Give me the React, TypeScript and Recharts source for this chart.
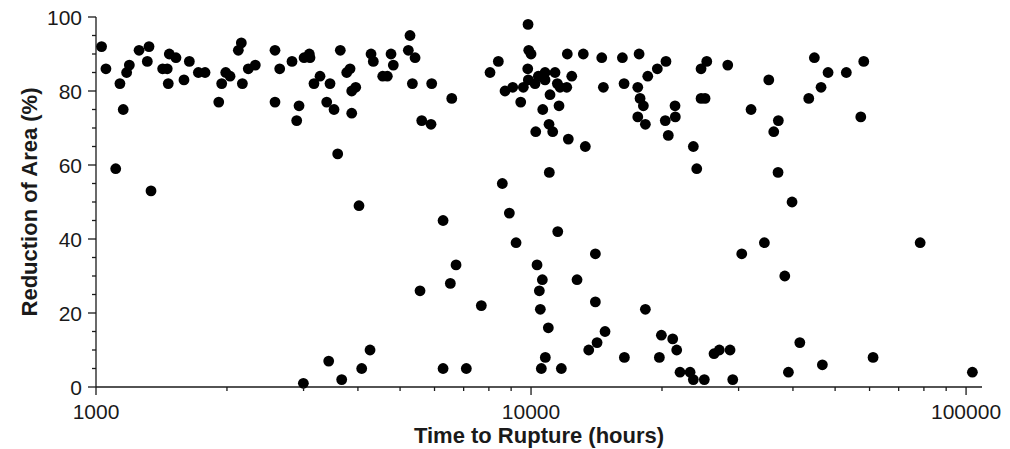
import React from "react";
import { ScatterChart, Scatter, XAxis, YAxis } from "recharts";

// time to rupture (hours)
const ruptureHours = [
  1030, 1054, 1110, 1135, 1155, 1176, 1193, 1256, 1324, 1312, 1338, 1423, 1458, 1466, 1474, 1527,
  1593, 1639, 1719, 1781, 1915, 1945, 1987, 2033, 2124, 2158, 2170, 2239, 2324, 2579, 2579, 2644,
  2822, 2893, 2929, 3008, 3093, 3104, 3170, 3273, 3451, 3391, 3525, 3594, 3644, 3770, 3837, 3871,
  3954, 3871, 4288, 4340, 4561, 4674, 4766, 4824, 5270, 5223, 5413, 5337, 5911, 5607, 5890, 6573,
  2997, 3427, 3671, 4023, 4081, 4265, 5557, 6278, 6278, 6524, 6724, 7100, 7687,
  8049, 8411, 8714, 9077, 9469, 9601, 9827, 9843, 9879, 10000, 9858, 10214, 10394, 10770, 10770,
  11355, 11494, 11659, 12081, 11057, 10640, 11597, 10999, 11216, 10252, 12182, 13328, 12406, 12117,
  13188, 14540, 14665, 16218, 16364, 17717, 17594, 17810, 18123, 17594, 18316, 18549, 19513, 20426,
  20351, 21461, 21429, 20678, 23610, 24040, 24594, 25347, 24594, 25119, 28327, 32044, 35195, 37026,
  36134, 36966, 43491, 44802, 46416, 48170, 53060, 58190, 57280,
  8590, 8916, 9238, 11016, 11519, 10323, 10617, 10450, 10505, 10959, 10786, 10560, 11740, 12757,
  14057, 14057, 14795, 14183, 13572, 16390, 18316, 19935, 19724, 21167, 21620, 22003, 23207, 23610,
  25020, 26340, 27090, 28673, 29085, 30505, 34390, 38310, 39811, 39050, 41480, 46740, 61130, 78430,
  103400,
];

// reduction of area (%), same order as ruptureHours
const reductionPct = [
  92, 86, 59, 82, 75, 85, 87, 91, 92, 88, 53, 86, 86, 82, 90, 89,
  83, 88, 85, 85, 77, 82, 85, 84, 91, 93, 82, 86, 87, 91, 77, 86,
  88, 72, 76, 89, 90, 89, 82, 84, 82, 77, 75, 63, 91, 85, 86, 80,
  81, 74, 90, 88, 84, 84, 90, 87, 95, 91, 89, 82, 82, 72, 71, 78,
  1, 7, 2, 49, 5, 10, 26, 45, 5, 28, 33, 5, 22,
  85, 88, 80, 81, 77, 81, 86, 98, 91, 90, 83, 82, 84, 85, 83,
  85, 82, 81, 81, 79, 75, 76, 71, 69, 69, 67, 65, 84, 90,
  90, 89, 81, 89, 82, 90, 81, 78, 76, 73, 71, 84, 86, 88,
  72, 73, 76, 68, 65, 59, 86, 88, 78, 78, 87, 75, 83, 72,
  69, 58, 78, 89, 81, 85, 85, 88, 73,
  55, 47, 39, 58, 42, 33, 29, 26, 21, 16, 8, 5, 5, 29,
  36, 23, 15, 12, 10, 8, 21, 14, 8, 13, 10, 4, 4, 2,
  2, 9, 10, 10, 2, 36, 39, 30, 50, 4, 12, 6, 8, 39,
  4,
];

const xMajorTicks = [1000, 10000, 100000];
const xTicks = [1, 2, 3, 4, 5, 6, 7, 8, 9].flatMap((m) => [m * 1000, m * 10000]).concat([100000]).sort((a, b) => a - b);
const yMajorTicks = [0, 20, 40, 60, 80, 100];
const yTicks = Array.from({ length: 21 }, (_, i) => i * 5);

const data = ruptureHours.map((h, i) => ({ hours: h, ra: reductionPct[i] }));

const FONT = '"Liberation Sans", Arial, Helvetica, sans-serif';
const INK = "#1a1a1a";

const XTick = (props: any) => {
  const { x, y, payload } = props;
  const major = xMajorTicks.includes(payload.value);
  return (
    <g>
      <line x1={x} x2={x} y1={y} y2={y + (major ? 8 : 4)} stroke={INK} strokeWidth={1.3} />
      {major && (
        <text x={x} y={y + 32} textAnchor="middle" fontSize={21} fill={INK} fontFamily={FONT}>
          {payload.value}
        </text>
      )}
    </g>
  );
};

const YTick = (props: any) => {
  const { x, y, payload } = props;
  const major = yMajorTicks.includes(payload.value);
  return (
    <g>
      <line x1={x - (major ? 8 : 4)} x2={x} y1={y} y2={y} stroke={INK} strokeWidth={1.3} />
      {major && (
        <text x={x - 14} y={y + 7.5} textAnchor="end" fontSize={21} fill={INK} fontFamily={FONT}>
          {payload.value}
        </text>
      )}
    </g>
  );
};

const Dot = (props: any) => <circle cx={props.cx} cy={props.cy} r={5.4} fill="#000" />;

export default function App() {
  return (
    <div style={{ width: 1000, height: 440, background: "#fff" }}>
      <ScatterChart width={1000} height={440} margin={{ top: 9, right: 26, left: 0, bottom: 0 }}>
        <XAxis
          dataKey="hours"
          type="number"
          scale="log"
          domain={[1000, 108800]}
          allowDataOverflow
          ticks={xTicks}
          interval={0}
          tickSize={0}
          tickMargin={0}
          tick={<XTick />}
          tickLine={false}
          axisLine={{ stroke: INK, strokeWidth: 1.3 }}
          height={61}
          label={() => (
            <text x={531} y={435} textAnchor="middle" fontSize={22} fontWeight="bold" fill={INK} fontFamily={FONT}>
              Time to Rupture (hours)
            </text>
          )}
        />
        <YAxis
          dataKey="ra"
          type="number"
          domain={[0, 100]}
          ticks={yTicks}
          interval={0}
          tickSize={0}
          tickMargin={0}
          tick={<YTick />}
          tickLine={false}
          axisLine={{ stroke: INK, strokeWidth: 1.3 }}
          width={88}
          label={() => (
            <text
              x={29}
              y={194}
              transform="rotate(-90, 29, 194)"
              textAnchor="middle"
              fontSize={22}
              fontWeight="bold"
              fill={INK}
              fontFamily={FONT}
            >
              Reduction of Area (%)
            </text>
          )}
        />
        <Scatter data={data} shape={<Dot />} isAnimationActive={false} />
      </ScatterChart>
    </div>
  );
}
